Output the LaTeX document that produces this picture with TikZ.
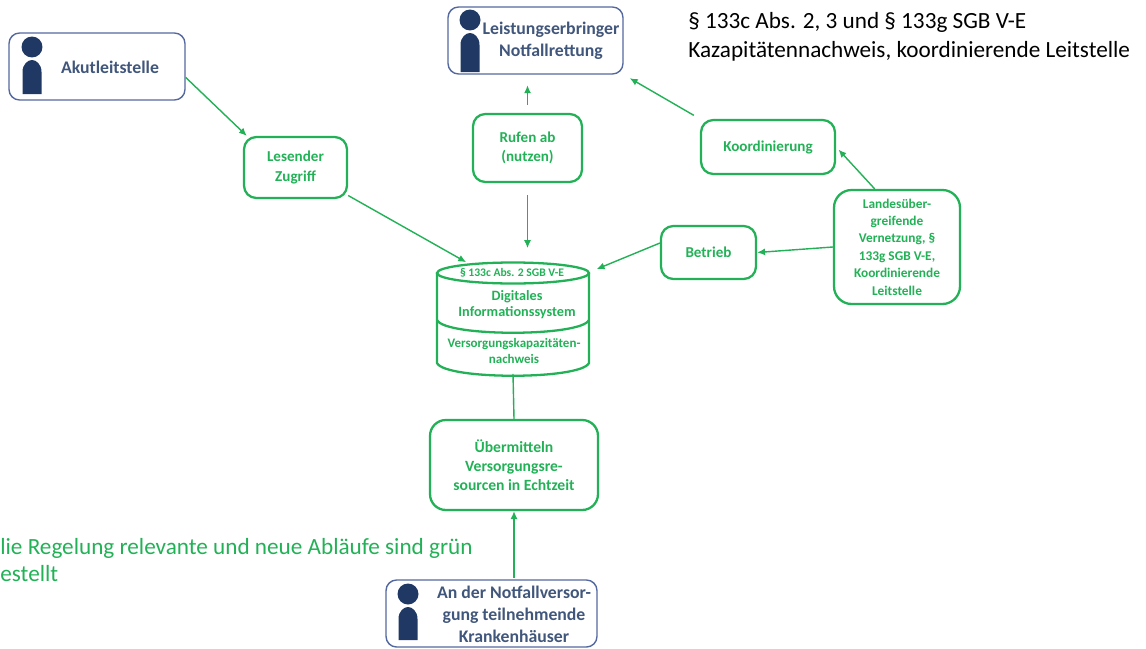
\documentclass[tikz,border=0pt]{standalone}
\usepackage{fontspec}
\setmainfont{Carlito}
\usepackage{xcolor}
\usetikzlibrary{arrows.meta}
\definecolor{regelgruen}{RGB}{34,177,86}
\definecolor{akteurblau}{RGB}{31,56,100}
\definecolor{akteurrand}{RGB}{84,104,160}
\newcommand{\personicon}[3]{%
  \fill[akteurblau] (#1,#2) circle (0.21cm);
  \fill[akteurblau] ({#1-9.5},#3) -- ({#1-9.5},{#2+25}) .. controls ({#1-9.5},{#2+17}) and ({#1-4},{#2+13}) .. (#1,{#2+13})
    .. controls ({#1+4},{#2+13}) and ({#1+9.5},{#2+17}) .. ({#1+9.5},{#2+25}) -- ({#1+9.5},#3) -- cycle;
}
\begin{document}
\begin{tikzpicture}[x=0.02cm,y=-0.02cm,
    gruenbox/.style={draw=regelgruen, line width=1.3pt, rounded corners=7pt, text=regelgruen, font=\bfseries\fontsize{8.6}{11}\selectfont, align=center, inner sep=0pt},
    akteurbox/.style={draw=akteurrand, line width=0.8pt, rounded corners=6pt},
    akteurtext/.style={text=akteurblau!85!white, font=\bfseries\fontsize{10.1}{12.5}\selectfont, align=center, inner sep=0pt},
    zylindertext/.style={text=regelgruen, font=\bfseries\fontsize{8.1}{9.1}\selectfont, align=center, inner sep=0pt},
    pfeil/.style={draw=regelgruen, line width=0.8pt, -{Latex[length=4.5pt,width=4pt]}},
    hinweis/.style={font=\fontsize{13.2}{16.5}\selectfont, align=left, anchor=west, inner sep=0pt}]
    \useasboundingbox (0,0) rectangle (1146,649);
    % Akteure
    \node[akteurbox, minimum width=3.52cm, minimum height=1.34cm] (akut) at (97,66.5) {};
    \node[akteurbox, minimum width=3.5cm, minimum height=1.34cm] (leistung) at (535.5,40.5) {};
    \node[akteurbox, minimum width=4.22cm, minimum height=1.34cm] (kranken) at (491.5,613.5) {};
    \personicon{32}{47}{94}
    \personicon{470}{20}{72}
    \personicon{408}{594}{640}
    \node[akteurtext] (akuttext) at (110,67) {Akutleitstelle};
    \node[akteurtext] (leistungtext) at (551,41) {Leistungserbringer\\Notfallrettung};
    \node[akteurtext] (krankentext) at (514,614) {An der Notfallversor-\\gung teilnehmende\\Krankenhäuser};
    % Gruene Kaesten
    \node[gruenbox, minimum width=2.06cm, minimum height=1.22cm] (lesen) at (295.5,167.5) {Lesender\\Zugriff};
    \node[gruenbox, minimum width=2.18cm, minimum height=1.36cm] (rufen) at (527.5,148) {Rufen ab\\(nutzen)};
    \node[gruenbox, minimum width=2.68cm, minimum height=1.08cm] (koord) at (768,147) {Koordinierung};
    \node[gruenbox, minimum width=1.9cm, minimum height=1.06cm] (betrieb) at (708.5,252.5) {Betrieb};
    \node[gruenbox, rounded corners=10pt, minimum width=2.52cm, minimum height=2.28cm, font=\bfseries\fontsize{7.6}{9.9}\selectfont] (landes) at (897,247) {Landesüber-\\greifende\\Vernetzung, §\\133g SGB V-E,\\Koordinierende\\Leitstelle};
    \node[gruenbox, rounded corners=9pt, minimum width=3.36cm, minimum height=1.8cm, font=\bfseries\fontsize{8.9}{10.8}\selectfont] (uebermitteln) at (514,465) {Übermitteln\\Versorgungsre-\\sourcen in Echtzeit};
    % Zylinder
    \node[minimum width=3.04cm, minimum height=2.22cm, inner sep=0pt] (system) at (513,318) {};
    \draw[regelgruen, line width=1.3pt] (513,273) ellipse (1.52cm and 0.21cm);
    \draw[regelgruen, line width=1.3pt] (437,273) -- (437,363) .. controls (445,380) and (581,380) .. (589,363) -- (589,273);
    \draw[regelgruen, line width=1.3pt] (437,320) .. controls (445,337) and (581,337) .. (589,320);
    \node[zylindertext, font=\bfseries\fontsize{6.6}{8}\selectfont] (abs) at (512,273) {§ 133c Abs. 2 SGB V-E};
    \node[zylindertext] (digital) at (517,305) {Digitales\\Informationssystem};
    \node[zylindertext, font=\bfseries\fontsize{7.4}{9.1}\selectfont] (nachweis) at (514,351) {Versorgungskapazitäten-\\nachweis};
    % Verbindungen
    \draw[pfeil] (akut.-7) -- (lesen.147);
    \draw[pfeil] (lesen.-28) -- (system.130);
    \draw[pfeil, shorten <=4.5pt, shorten >=6pt] (rufen.north) -- (rufen.north |- leistung.south);
    \draw[pfeil, shorten <=7pt, shorten >=8pt] (rufen.south) -- (rufen.south |- system.north);
    \draw[pfeil, shorten <=4pt, shorten >=4pt] (koord.north west) -- (leistung.south east);
    \draw[pfeil, shorten >=2pt] (landes.111) -- (koord.east);
    \draw[pfeil] (landes.west) -- (betrieb.east);
    \draw[pfeil, shorten >=4.5pt] (betrieb.169) -- (system.31);
    \draw[draw=regelgruen, line width=0.8pt] (system.south) -- (uebermitteln.north);
    \draw[pfeil, shorten <=1pt] (uebermitteln.south |- kranken.north) -- (uebermitteln.south);
    % Hinweise
    \node[hinweis] (paragraf) at (688,37) {§ 133c Abs. 2, 3 und § 133g SGB V-E\\Kazapitätennachweis, koordinierende Leitstelle};
    \node[hinweis, text=regelgruen, font=\fontsize{13.2}{15.5}\selectfont] (legende) at (0,560) {lie Regelung relevante und neue Abläufe sind grün\\estellt};
\end{tikzpicture}
\end{document}
